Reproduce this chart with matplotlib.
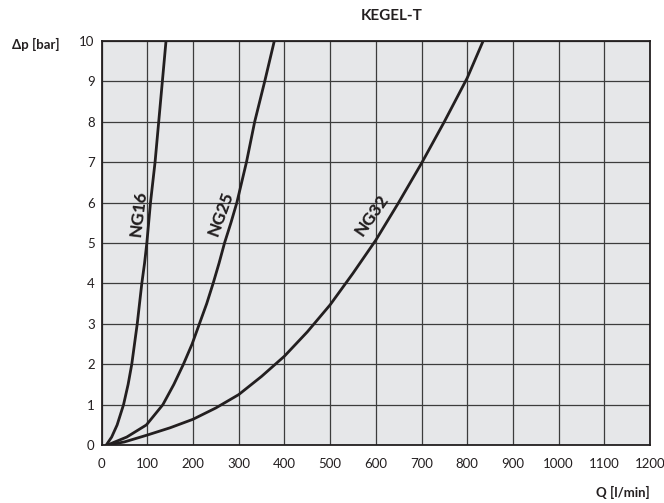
import matplotlib
matplotlib.use('Agg')
import matplotlib.pyplot as plt

plt.rcParams['font.family'] = ['Lato', 'DejaVu Sans']

# Kennlinien: Q [l/min] -> dp [bar]
ng16_q = [10, 22, 34, 48, 58, 66, 72, 78, 83, 88, 94, 99, 103, 107, 117, 125, 133, 141]
ng16_p = [0, 0.2, 0.5, 1, 1.5, 2, 2.5, 3, 3.5, 4, 4.5, 5, 5.5, 6, 7, 8, 9, 10]

ng25_q = [12, 55, 98, 134, 158, 179, 198, 214, 230, 244, 257, 269, 283, 296, 317, 335, 357, 378]
ng25_p = [0, 0.2, 0.5, 1, 1.5, 2, 2.5, 3, 3.5, 4, 4.5, 5, 5.5, 6, 7, 8, 9, 10]

ng32_q = [12, 50, 100, 150, 200, 250, 300, 350, 400, 450, 500, 550, 600, 650, 700, 750, 800, 835]
ng32_p = [0, 0.08, 0.25, 0.43, 0.64, 0.92, 1.25, 1.7, 2.2, 2.8, 3.47, 4.25, 5.07, 6.0, 6.97, 8.0, 9.08, 10]

x_ticks = list(range(0, 1201, 100))
x_labels = [str(v) for v in x_ticks]
y_ticks = list(range(0, 11))
y_labels = [str(v) for v in y_ticks]

line_col = '#231f20'

fig = plt.figure(figsize=(6.64, 5.03), dpi=100)
ax = fig.add_axes([0.153, 0.115, 0.826, 0.804])
ax.set_facecolor('#e6e7e9')

for q, p in [(ng16_q, ng16_p), (ng25_q, ng25_p), (ng32_q, ng32_p)]:
    ax.plot(q, p, color=line_col, lw=2.0, solid_capstyle='round',
            solid_joinstyle='round', zorder=3)

ax.set_xlim(0, 1200)
ax.set_ylim(0, 10)
ax.set_xticks(x_ticks)
ax.set_xticklabels(x_labels)
ax.set_yticks(y_ticks)
ax.set_yticklabels(y_labels)
ax.tick_params(length=0, labelsize=9.5, colors=line_col)
ax.tick_params(axis='x', pad=9)
ax.tick_params(axis='y', pad=5)
ax.grid(True, color='#3c3c3c', lw=0.9)
ax.set_axisbelow(True)
for s in ax.spines.values():
    s.set_color(line_col)
    s.set_linewidth(1.3)

# Beschriftung der Kurven
lab = dict(fontsize=12.5, fontweight='black', color=line_col,
           ha='center', va='center', rotation_mode='anchor')
ax.text(80, 5.74, 'NG16', rotation=83, **lab)
ax.text(261, 5.74, 'NG25', rotation=70, **lab)
ax.text(591, 5.69, 'NG32', rotation=55, **lab)

fig.text(392 / 664, 1 - 16 / 503, 'KEGEL-T', ha='center', va='center',
         fontsize=11, fontweight='bold', color=line_col)
fig.text(12 / 664, 1 - 44 / 503, '\u0394p [bar]', ha='left', va='center',
         fontsize=9.5, fontweight='bold', color=line_col)
fig.text(650 / 664, 1 - 492 / 503, 'Q [l/min]', ha='right', va='center',
         fontsize=9.5, fontweight='bold', color=line_col)

fig.savefig('out.png', dpi=100)
